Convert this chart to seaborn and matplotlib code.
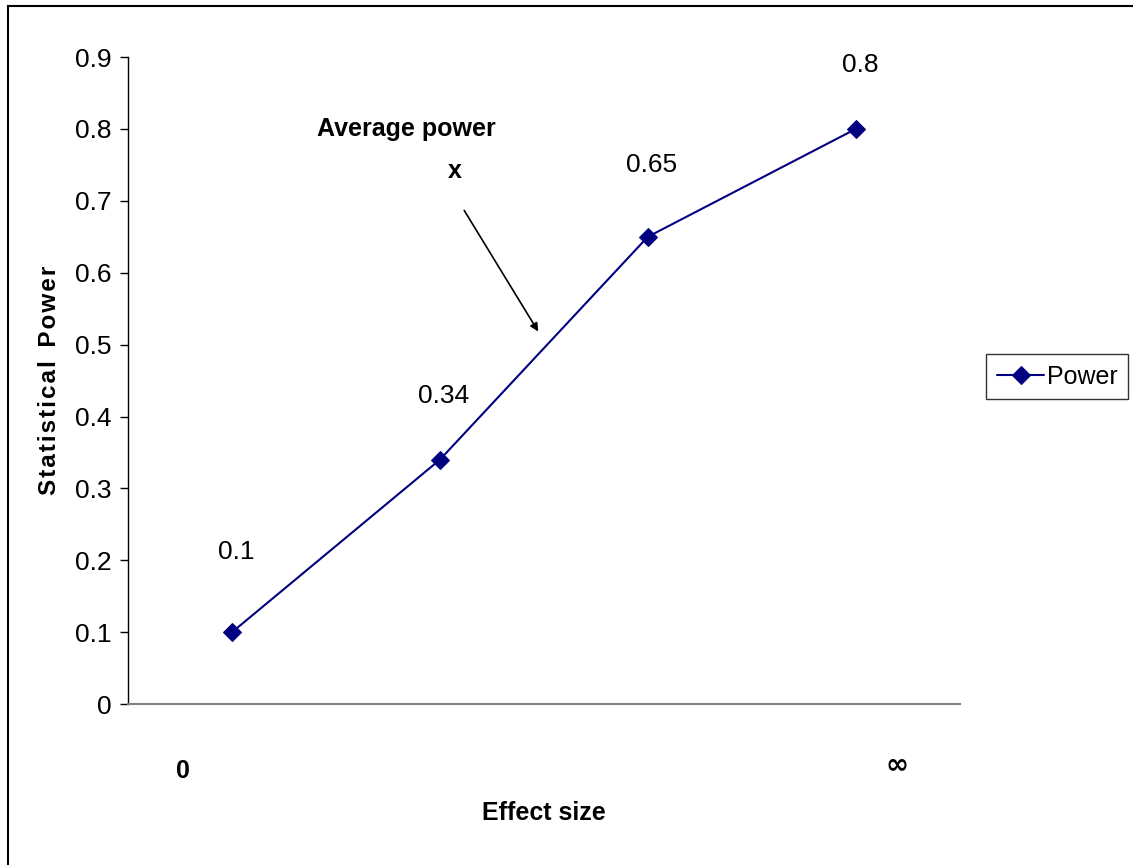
import numpy as np
import seaborn as sns
import matplotlib.pyplot as plt
from matplotlib.patches import Rectangle

# values
power = [0.1, 0.34, 0.65, 0.8]
point_labels = ["0.1", "0.34", "0.65", "0.8"]
y_ticks = [0, 0.1, 0.2, 0.3, 0.4, 0.5, 0.6, 0.7, 0.8, 0.9]
y_tick_labels = ["0", "0.1", "0.2", "0.3", "0.4", "0.5", "0.6", "0.7", "0.8", "0.9"]
label_offsets = [58, 46, 52, 46]  # points above each marker

sns.set_theme(style="white")
plt.rcParams['font.family'] = ['Liberation Sans', 'DejaVu Sans']
plt.rcParams['text.color'] = 'black'
plt.rcParams['axes.labelcolor'] = 'black'
plt.rcParams['ytick.color'] = 'black'

navy = "#000080"
bold_font = ['Liberation Sans', 'DejaVu Sans']
positions = np.arange(len(power))

fig = plt.figure(figsize=(11.33, 8.65), dpi=100)
ax = fig.add_axes([0.113, 0.186, 0.734, 0.748])

sns.lineplot(x=positions, y=power, ax=ax, color=navy, linewidth=1.5,
             marker="D", markersize=9, markeredgecolor=navy, label="Power")

for i, (v, t) in enumerate(zip(power, point_labels)):
    ax.annotate(t, (i, v), xytext=(3, label_offsets[i]), textcoords="offset points",
                ha="center", va="center", fontsize=19)

ax.set_xlim(-0.5, 3.5)
ax.set_ylim(0, 0.9)
ax.set_yticks(y_ticks)
ax.set_yticklabels(y_tick_labels, fontsize=19)
ax.set_xticks([])
ax.tick_params(axis="y", direction="out", length=6, width=1, color="black", left=True, pad=6)

for side in ["top", "right"]:
    ax.spines[side].set_visible(False)
ax.spines["left"].set_color("black")
ax.spines["left"].set_linewidth(1)
ax.spines["bottom"].set_color("#808080")
ax.spines["bottom"].set_linewidth(1.5)

# x-axis end labels
ax.text(-0.236, -0.093, "0", ha="center", va="center", fontsize=18, fontweight="bold",
        family=bold_font)
ax.text(3.2, -0.083, "\u221e", ha="center", va="center", fontsize=20, fontweight="bold",
        family=['DejaVu Sans'])

ax.set_xlabel("Effect size", fontsize=18, fontweight="bold", labelpad=70, family=bold_font)
ax.set_ylabel("\u200a".join("Statistical") + "  " + "\u200a".join("Power"),
              fontsize=17.5, fontweight="bold", labelpad=10, family=bold_font)

# annotation with arrow
ax.text(0.84, 0.8, "Average power", ha="center", va="center", fontsize=18, fontweight="bold",
        family=bold_font)
ax.text(1.07, 0.742, "x", ha="center", va="center", fontsize=18, fontweight="bold",
        family=bold_font)
ax.annotate("", xy=(1.48, 0.515), xytext=(1.11, 0.69),
            arrowprops=dict(arrowstyle="-|>", color="black", lw=1.2, mutation_scale=12))

leg = ax.legend(loc="center left", bbox_to_anchor=(1.032, 0.506), frameon=True, fontsize=18,
                handlelength=1.9, handletextpad=0.1, borderpad=0.42, borderaxespad=0,
                fancybox=False)
leg.get_frame().set_edgecolor("black")
leg.get_frame().set_linewidth(1)

# outer chart border (cropped on the right and bottom)
fig.patches.append(Rectangle((0.007, -0.1), 1.2, 1.093, transform=fig.transFigure,
                             fill=False, edgecolor="black", linewidth=1.5, clip_on=False))

fig.savefig("out.png", dpi=100)
